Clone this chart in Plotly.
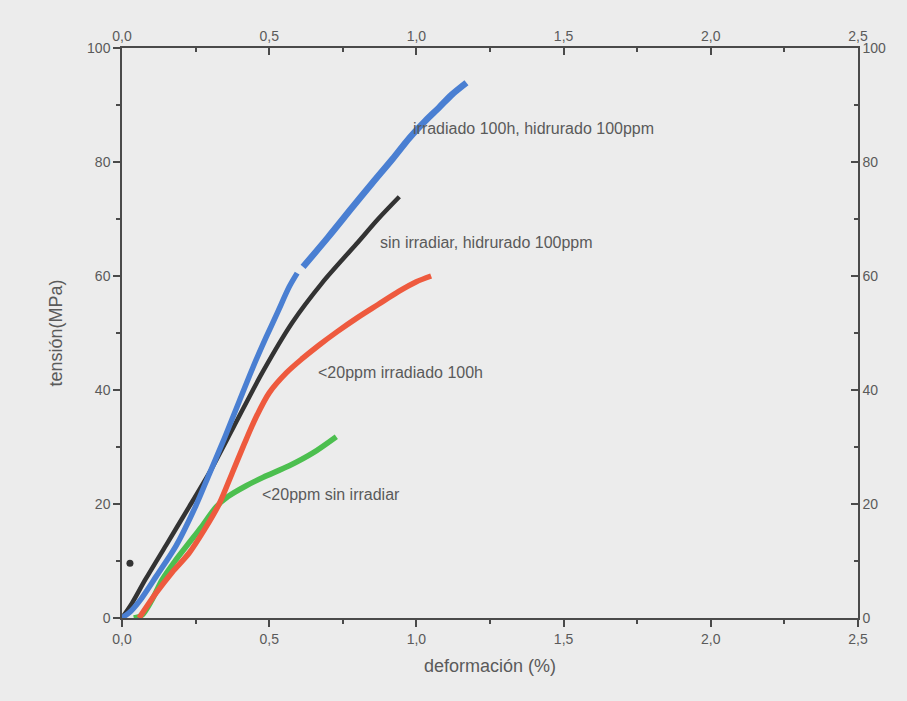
import plotly.graph_objects as go

# deformación (%) vs tensión (MPa)
blue_x = [0.0, 0.03, 0.06, 0.116, 0.183, 0.25, 0.296, 0.35, 0.398, 0.445, 0.49, 0.53, 0.568, 0.595]
blue_y = [0.0, 1.2, 3.0, 7.3, 12.6, 19.6, 25.2, 31.8, 38.0, 44.0, 49.3, 53.8, 58.1, 60.5]
blue2_x = [0.615, 0.70, 0.78, 0.85, 0.92, 0.976, 1.03, 1.078, 1.12, 1.17]
blue2_y = [61.6, 66.8, 71.9, 76.3, 80.6, 84.2, 87.2, 89.6, 91.8, 93.9]

black_x = [0.0, 0.034, 0.08, 0.15, 0.228, 0.296, 0.38, 0.476, 0.578, 0.68, 0.796, 0.87, 0.942]
black_y = [0.0, 2.6, 6.8, 12.8, 19.5, 25.4, 33.6, 43.0, 51.8, 58.8, 65.6, 70.0, 73.9]

red_x = [0.058, 0.116, 0.17, 0.228, 0.28, 0.33, 0.374, 0.415, 0.456, 0.50, 0.558, 0.61, 0.67, 0.73, 0.80, 0.87, 0.94, 1.0, 1.05]
red_y = [0.0, 4.4, 8.0, 11.4, 15.5, 20.0, 25.4, 30.5, 35.3, 39.5, 43.0, 45.4, 47.9, 50.2, 52.7, 55.0, 57.3, 59.0, 60.0]

green_x = [0.04, 0.068, 0.10, 0.136, 0.18, 0.228, 0.27, 0.32, 0.36, 0.422, 0.48, 0.568, 0.65, 0.728]
green_y = [0.0, 0.5, 3.0, 6.7, 10.0, 13.2, 16.0, 19.5, 21.3, 23.2, 24.7, 26.7, 29.0, 31.8]

stray_x = [0.027]
stray_y = [9.6]

labels = ["irradiado 100h, hidrurado 100ppm", "sin irradiar, hidrurado 100ppm",
          "<20ppm irradiado 100h", "<20ppm sin irradiar"]
label_x = [0.98, 0.87, 0.66, 0.47]
label_y = [85.8, 65.8, 43.0, 21.6]

x_ticks = [0, 0.5, 1.0, 1.5, 2.0, 2.5]
x_ticktext = ["0,0", "0,5", "1,0", "1,5", "2,0", "2,5"]
y_ticks = [0, 20, 40, 60, 80, 100]

BLUE = "#4a7fd2"
BLACK = "#333333"
RED = "#ee5a3e"
GREEN = "#4cbf4f"
AX = "#4a4a4a"
TXT = "#5a5a5a"
BG = "#ececec"

fig = go.Figure()
lw = 5.5
fig.add_trace(go.Scatter(x=green_x, y=green_y, mode="lines", line=dict(color=GREEN, width=lw, shape="spline", smoothing=0.8)))
fig.add_trace(go.Scatter(x=red_x, y=red_y, mode="lines", line=dict(color=RED, width=lw, shape="spline", smoothing=0.8)))
fig.add_trace(go.Scatter(x=black_x, y=black_y, mode="lines", line=dict(color=BLACK, width=4.5, shape="spline", smoothing=0.8)))
fig.add_trace(go.Scatter(x=blue_x, y=blue_y, mode="lines", line=dict(color=BLUE, width=lw, shape="spline", smoothing=0.8)))
fig.add_trace(go.Scatter(x=blue2_x, y=blue2_y, mode="lines", line=dict(color=BLUE, width=lw + 1, shape="spline", smoothing=0.8)))
fig.add_trace(go.Scatter(x=stray_x, y=stray_y, mode="markers", marker=dict(color=BLACK, size=7)))

for t, lx, ly in zip(labels, label_x, label_y):
    fig.add_annotation(x=lx, y=ly, text=t, showarrow=False, xanchor="left", yanchor="middle",
                       font=dict(family="Liberation Sans, Arial", size=16, color=TXT))

tickfont = dict(family="Liberation Sans, Arial", size=14, color=TXT)
fig.update_layout(
    width=907, height=701,
    margin=dict(l=122, r=49, t=48, b=83),
    paper_bgcolor=BG, plot_bgcolor=BG,
    showlegend=False,
    xaxis=dict(range=[0, 2.5], tickvals=x_ticks, ticktext=x_ticktext, ticks="outside", ticklen=7,
               tickwidth=1.5, tickcolor=AX, showline=True, linecolor=AX, linewidth=1.5,
               showgrid=False, zeroline=False, tickfont=tickfont,
               minor=dict(dtick=0.25, tick0=0, ticks="outside", ticklen=4, tickcolor=AX, tickwidth=1.5),
               title=dict(text="deformación (%)", font=dict(family="Liberation Sans, Arial", size=18, color=TXT), standoff=14)),
    yaxis=dict(range=[0, 100], tickvals=y_ticks, ticks="outside", ticklen=7, tickwidth=1.5, tickcolor=AX,
               showline=True, linecolor=AX, linewidth=1.5, showgrid=False, zeroline=False, tickfont=tickfont,
               minor=dict(dtick=10, tick0=0, ticks="outside", ticklen=4, tickcolor=AX, tickwidth=1.5),
               title=dict(text="tensión(MPa)", font=dict(family="Liberation Sans, Arial", size=18, color=TXT), standoff=20)),
    xaxis2=dict(range=[0, 2.5], overlaying="x", side="top", tickvals=x_ticks, ticktext=x_ticktext,
                ticks="inside", ticklen=7, tickwidth=1.5, tickcolor=AX, showline=True, linecolor=AX,
                linewidth=1.5, showgrid=False, zeroline=False, tickfont=tickfont,
                minor=dict(dtick=0.25, tick0=0, ticks="inside", ticklen=4, tickcolor=AX, tickwidth=1.5)),
    yaxis2=dict(range=[0, 100], overlaying="y", side="right", tickvals=y_ticks, ticks="inside",
                ticklen=7, tickwidth=1.5, tickcolor=AX, showline=True, linecolor=AX, linewidth=1.5,
                showgrid=False, zeroline=False, tickfont=tickfont,
                minor=dict(dtick=10, tick0=0, ticks="inside", ticklen=4, tickcolor=AX, tickwidth=1.5)),
)
# invisible trace to activate secondary axes
fig.add_trace(go.Scatter(x=[0], y=[0], xaxis="x2", yaxis="y2", mode="markers",
                         marker=dict(opacity=0), hoverinfo="skip"))

fig.write_html("out.html", config={"displayModeBar": False},
               post_script="document.body.style.margin='0';document.body.style.background='%s';" % BG)
